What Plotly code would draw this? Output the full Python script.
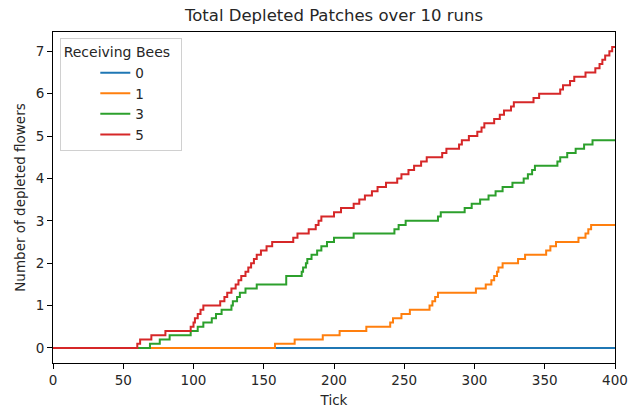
import plotly.graph_objects as go

# ---- data ----
series_names = ["0", "1", "3", "5"]
series_colors = ["#1f77b4", "#ff7f0e", "#2ca02c", "#d62728"]

bees0_ticks = [0, 400]
bees0_values = [0.0, 0.0]

bees1_ticks = [0, 158, 172, 192, 204, 223, 240, 242, 248, 254, 268, 270, 272, 274,
               301, 308, 312, 314, 316, 317, 320, 331, 336, 351, 354, 358, 374,
               379, 381, 383, 400]
bees1_values = [0.0, 0.1, 0.2, 0.3, 0.4, 0.5, 0.6, 0.7, 0.8, 0.9, 1.0, 1.1, 1.2, 1.3,
                1.4, 1.5, 1.6, 1.7, 1.8, 1.9, 2.0, 2.1, 2.2, 2.3, 2.4, 2.5, 2.6,
                2.7, 2.8, 2.9, 2.9]

bees3_ticks = [0, 69, 76, 83, 98, 103, 107, 113, 116, 120, 127, 128, 131, 133, 137,
               145, 166, 177, 178, 180, 181, 184, 188, 191, 195, 200, 214, 243, 246,
               251, 274, 276, 293, 298, 304, 310, 315, 320, 327, 335, 338, 341, 343,
               359, 361, 366, 372, 378, 384, 400]
bees3_values = [0.0, 0.1, 0.2, 0.3, 0.4, 0.5, 0.6, 0.7, 0.8, 0.9, 1.0, 1.1, 1.2, 1.3, 1.4,
                1.5, 1.7, 1.8, 1.9, 2.0, 2.1, 2.2, 2.3, 2.4, 2.5, 2.6, 2.7, 2.8, 2.9,
                3.0, 3.1, 3.2, 3.3, 3.4, 3.5, 3.6, 3.7, 3.8, 3.9, 4.0, 4.1, 4.2, 4.3,
                4.4, 4.5, 4.6, 4.7, 4.8, 4.9, 4.9]

bees5_ticks = [0, 60, 62, 70, 80, 98, 100, 101, 103, 105, 107, 119, 122, 124, 127, 130,
               132, 134, 137, 139, 141, 143, 145, 148, 152, 156, 171, 174, 182, 187,
               189, 191, 200, 205, 214, 218, 222, 227, 231, 237, 245, 248, 253, 257,
               262, 266, 277, 280, 289, 291, 296, 302, 305, 307, 314, 318, 321, 326,
               328, 342, 346, 361, 363, 368, 371, 379, 386, 389, 391, 393, 396, 398, 400]
bees5_values = [0.0, 0.1, 0.2, 0.3, 0.4, 0.5, 0.6, 0.7, 0.8, 0.9, 1.0, 1.1, 1.2, 1.3, 1.4, 1.5,
                1.6, 1.7, 1.8, 1.9, 2.0, 2.1, 2.2, 2.3, 2.4, 2.5, 2.6, 2.7, 2.8, 2.9,
                3.0, 3.1, 3.2, 3.3, 3.4, 3.5, 3.6, 3.7, 3.8, 3.9, 4.0, 4.1, 4.2, 4.3,
                4.4, 4.5, 4.6, 4.7, 4.8, 4.9, 5.0, 5.1, 5.2, 5.3, 5.4, 5.5, 5.6, 5.7,
                5.8, 5.9, 6.0, 6.1, 6.2, 6.3, 6.4, 6.5, 6.6, 6.7, 6.8, 6.9, 7.0, 7.1, 7.1]

x_tick_values = [0, 50, 100, 150, 200, 250, 300, 350, 400]
y_tick_values = [0, 1, 2, 3, 4, 5, 6, 7]

all_ticks = [bees0_ticks, bees1_ticks, bees3_ticks, bees5_ticks]
all_values = [bees0_values, bees1_values, bees3_values, bees5_values]

FONT = "DejaVu Sans"
INK = "#262626"

fig = go.Figure()
for name, color, xs, ys in zip(series_names, series_colors, all_ticks, all_values):
    fig.add_trace(go.Scatter(
        x=xs, y=ys, name=name, mode="lines",
        line=dict(color=color, width=2, shape="hv"),
    ))

axis_common = dict(
    showline=True, linecolor="black", linewidth=1.1, mirror=True,
    ticks="outside", ticklen=5, tickwidth=1.1, tickcolor="black",
    showgrid=False, zeroline=False, automargin=False,
    tickfont=dict(family=FONT, size=13.5, color=INK),
)

fig.update_layout(
    width=629, height=409,
    margin=dict(l=53, r=14, t=32, b=46, autoexpand=False),
    paper_bgcolor="white", plot_bgcolor="white",
    font=dict(family=FONT, color=INK),
    title=dict(text="Total Depleted Patches over 10 runs",
               x=(53 + 615) / 2 / 629, xanchor="center",
               y=1 - 15 / 409, yanchor="middle",
               font=dict(family=FONT, size=16.5, color=INK),
               automargin=False),
    xaxis=dict(range=[0, 400], tickvals=x_tick_values,
               title=dict(text="Tick", font=dict(family=FONT, size=13.5, color=INK), standoff=8),
               **axis_common),
    yaxis=dict(range=[-0.355, 7.455], tickvals=y_tick_values,
               title=dict(text="Number of depleted flowers", font=dict(family=FONT, size=13.5, color=INK), standoff=6),
               **axis_common),
    legend=dict(
        x=0.013, y=0.981, xanchor="left", yanchor="top",
        bgcolor="rgba(255,255,255,0.8)", bordercolor="#d0d0d0", borderwidth=1,
        font=dict(family=FONT, size=13.5, color=INK),
        title=dict(text="Receiving Bees  ", side="top center",
                   font=dict(family=FONT, size=14, color=INK)),
        indentation=34,
        tracegroupgap=0,
    ),
    showlegend=True,
)

fig.write_html("out.html", config={"displayModeBar": False},
               post_script="document.body.style.margin='0';")
